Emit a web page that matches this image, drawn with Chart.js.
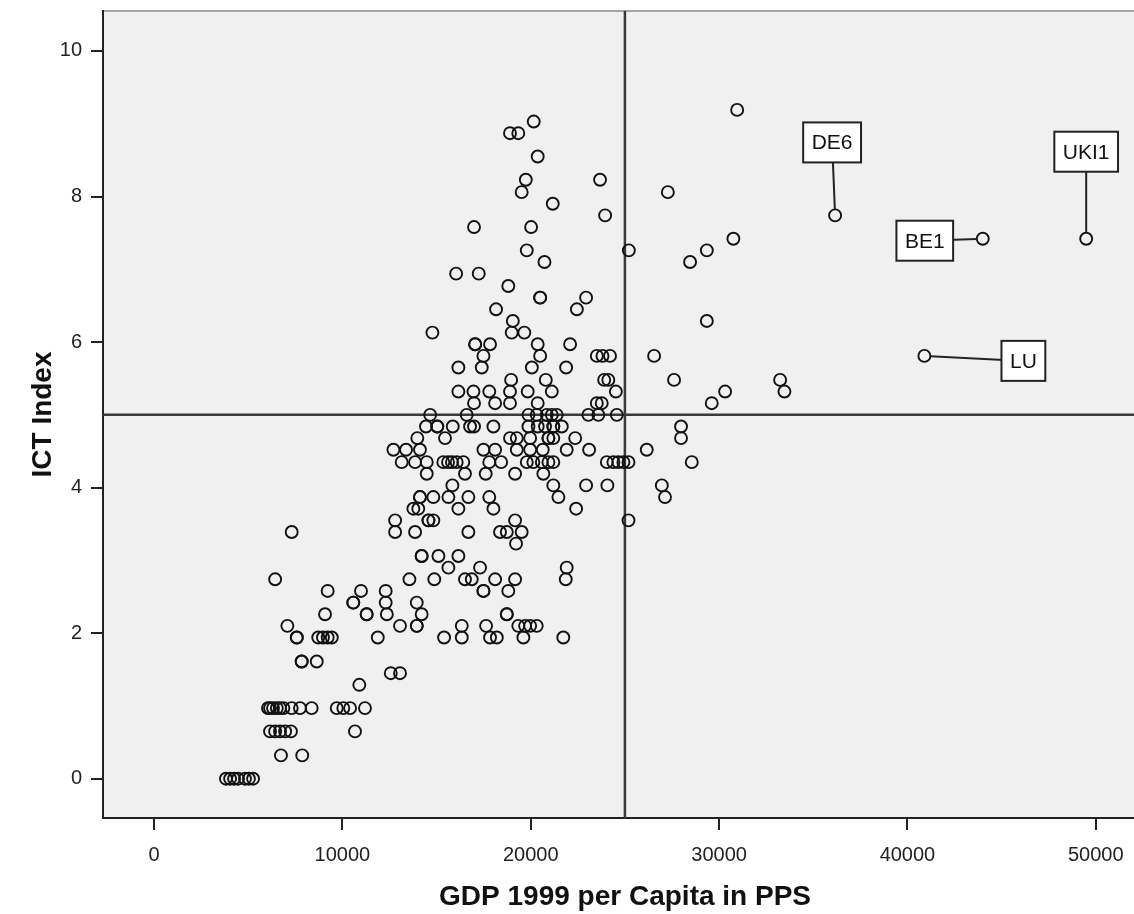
<!DOCTYPE html>
<html>
<head>
<meta charset="UTF-8">
<title>ICT Index vs GDP per Capita</title>
<script src="https://cdn.jsdelivr.net/npm/chart.js"></script>
<style>
    html, body { margin: 0; padding: 0; background: #fff; overflow: hidden; }
    #wrap { width: 1134px; height: 914px; overflow: hidden; }
</style>
</head>
<body>
<div id="wrap">
    <canvas id="ictChart" width="1155" height="914"></canvas>
</div>
<script>
// ICT index levels (top to bottom) and the GDP 1999 per capita (PPS) of every region at that level
const ictLevels = [9.19, 9.03, 8.87, 8.55, 8.23, 8.06, 7.90, 7.74, 7.58, 7.42, 7.26, 7.10, 6.94, 6.77, 6.61, 6.45,
    6.29, 6.13, 5.97, 5.81, 5.65, 5.48, 5.32, 5.16, 5.00, 4.84, 4.68, 4.52, 4.35, 4.19, 4.03, 3.87, 3.71, 3.55,
    3.39, 3.23, 3.06, 2.90, 2.74, 2.58, 2.42, 2.26, 2.10, 1.94, 1.61, 1.45, 1.29, 0.97, 0.65, 0.32, 0.00];

const gdpAtLevel = [
    [30960],
    [20160],
    [18900, 19340],
    [20370],
    [19740, 23680],
    [19520, 27280],
    [21170],
    [23950],
    [16990, 20020],
    [30760],
    [19790, 25210, 29350],
    [20730, 28460],
    [16040, 17240],
    [18810],
    [20500, 20500, 22940],
    [18160, 22450],
    [19050, 29350],
    [14780, 18990, 19660],
    [17050, 17050, 17840, 20370, 22090],
    [17490, 20500, 23510, 23810, 24210, 26550],
    [16160, 17400, 20060, 21880],
    [18960, 20800, 23900, 24120, 27610, 33240],
    [16160, 16960, 17800, 18900, 19840, 21120, 24520, 30320, 33470],
    [16990, 18110, 18900, 20370, 23510, 23770, 29610],
    [14660, 16600, 19880, 20320, 20850, 21120, 21380, 23060, 23590, 24570],
    [14440, 15040, 15040, 15860, 16780, 16990, 18020, 19880, 20370, 20760, 21200, 21200, 21650, 27980],
    [13980, 15450, 18900, 19260, 19970, 20940, 20940, 21200, 22360, 27980],
    [12710, 13380, 14120, 17490, 18110, 19260, 19970, 20640, 21910, 23100, 26160],
    [13150, 13860, 14480, 15360, 15610, 15820, 16070, 16420, 17800, 18430, 19790, 20140, 20590, 20940, 21200,
        24040, 24390, 24650, 24920, 25190, 28550],
    [14480, 16510, 17610, 19170, 20670],
    [15840, 21200, 22940, 24070, 26960],
    [14120, 14120, 14830, 15630, 16690, 17800, 21470, 27130],
    [13770, 14030, 16160, 18020, 22410],
    [12800, 14570, 14570, 14830, 19170, 25190],
    [7310, 12800, 13860, 16690, 18370, 18730, 19520],
    [19220],
    [14210, 14210, 15100, 16160],
    [15630, 17310, 21910],
    [6430, 13560, 14880, 16510, 16870, 18110, 19170, 21860],
    [9220, 10990, 12300, 17490, 17490, 18810],
    [10580, 10580, 12300, 13950],
    [9080, 11290, 11290, 12360, 14210, 18730, 18730],
    [7080, 13060, 13950, 13950, 16340, 17630, 19340, 19700, 19970, 20320],
    [7580, 7580, 8720, 8970, 9220, 9440, 11880, 15400, 16340, 17840, 18200, 19610, 21730],
    [7840, 7840, 8640],
    [12570, 13060],
    [10900],
    [6050, 6160, 6320, 6520, 6690, 6870, 7310, 7750, 8370, 9700, 10050, 10410, 11200],
    [6160, 6430, 6690, 6960, 7270, 10670],
    [6740, 7870],
    [3820, 4040, 4250, 4460, 4830, 5040, 5260]
];

// regions that get a name tag
const labelNames = ['DE6', 'BE1', 'UKI1', 'LU'];
const labelGdp = [36160, 44000, 49490, 40900];
const labelIct = [7.74, 7.42, 7.42, 5.81];

// reference lines
const gdpCut = 25000;
const ictCut = 5;

const xTickValues = [0, 10000, 20000, 30000, 40000, 50000];
const yTickValues = [0, 2, 4, 6, 8, 10];

const FONT = 'Arial, "Liberation Sans", Helvetica, sans-serif';

let points = [];
ictLevels.forEach((ict, i) => {
    for (let g of gdpAtLevel[i]) {
        points.push({x: g, y: ict});
    }
});
labelNames.forEach((name, i) => {
    points.push({x: labelGdp[i], y: labelIct[i]});
});

// tag box position relative to its point, in pixels
const tagOffsets = {
    DE6: [-3, -73],
    BE1: [-58, 2],
    UKI1: [0, -87],
    LU: [99, 5]
};

const plotBackground = {
    id: 'plotBackground',
    beforeDraw(chart) {
        const {ctx, chartArea: a} = chart;
        ctx.save();
        ctx.fillStyle = '#f0f0f0';
        ctx.fillRect(a.left, a.top, a.right - a.left, a.bottom - a.top);
        ctx.strokeStyle = '#8a8a8a';
        ctx.lineWidth = 1.5;
        ctx.beginPath();
        ctx.moveTo(a.left, a.top);
        ctx.lineTo(a.right, a.top);
        ctx.stroke();
        ctx.restore();
    },
    beforeDatasetsDraw(chart) {
        const {ctx, chartArea: a, scales} = chart;
        const x = scales.x.getPixelForValue(gdpCut);
        const y = scales.y.getPixelForValue(ictCut);
        ctx.save();
        ctx.strokeStyle = '#3a3a3a';
        ctx.lineWidth = 2.5;
        ctx.beginPath();
        ctx.moveTo(x, a.top);
        ctx.lineTo(x, a.bottom);
        ctx.moveTo(a.left, y);
        ctx.lineTo(a.right, y);
        ctx.stroke();
        ctx.restore();
    }
};

const pointTags = {
    id: 'pointTags',
    afterDatasetsDraw(chart) {
        const {ctx, scales} = chart;
        const r = 6;
        ctx.save();
        ctx.font = '21px ' + FONT;
        ctx.textAlign = 'center';
        ctx.textBaseline = 'middle';
        labelNames.forEach((name, i) => {
            const px = scales.x.getPixelForValue(labelGdp[i]);
            const py = scales.y.getPixelForValue(labelIct[i]);
            const [dx, dy] = tagOffsets[name];
            const bx = px + dx, by = py + dy;
            const w = ctx.measureText(name).width + 17;
            const h = 40;

            // leader from the circle edge to the box
            const len = Math.hypot(dx, dy);
            ctx.strokeStyle = '#222';
            ctx.lineWidth = 2;
            ctx.beginPath();
            ctx.moveTo(px + dx / len * r, py + dy / len * r);
            ctx.lineTo(bx, by);
            ctx.stroke();

            ctx.fillStyle = '#fff';
            ctx.fillRect(bx - w / 2, by - h / 2, w, h);
            ctx.strokeRect(bx - w / 2, by - h / 2, w, h);
            ctx.fillStyle = '#111';
            ctx.fillText(name, bx, by + 1);
        });
        ctx.restore();
    }
};

new Chart(document.getElementById('ictChart'), {
    type: 'scatter',
    data: {
        datasets: [{
            data: points,
            pointStyle: 'circle',
            pointRadius: 6,
            pointBorderWidth: 1.9,
            pointBorderColor: '#111',
            pointBackgroundColor: 'rgba(0,0,0,0)',
            pointHoverRadius: 6
        }]
    },
    options: {
        responsive: false,
        devicePixelRatio: 1,
        animation: false,
        layout: { padding: { top: 11, right: 0, bottom: 0, left: 0 } },
        plugins: {
            legend: { display: false },
            tooltip: { enabled: false }
        },
        scales: {
            x: {
                type: 'linear',
                min: -2708,
                max: 52724,
                afterBuildTicks: (scale) => { scale.ticks = xTickValues.map(v => ({value: v})); },
                afterFit: (scale) => { scale.height = 96; },
                border: { display: true, color: '#222', width: 2 },
                grid: { drawOnChartArea: false, drawTicks: true, tickLength: 12, color: '#222', lineWidth: 2 },
                ticks: {
                    padding: 13,
                    color: '#222',
                    font: { family: FONT, size: 20 },
                    maxRotation: 0,
                    callback: (v) => String(v)
                },
                title: {
                    display: true,
                    text: 'GDP 1999 per Capita in PPS',
                    color: '#111',
                    font: { family: FONT, size: 28, weight: 'bold' },
                    padding: { top: 6, bottom: 0 }
                }
            },
            y: {
                type: 'linear',
                min: -0.54,
                max: 10.549,
                afterBuildTicks: (scale) => { scale.ticks = yTickValues.map(v => ({value: v})); },
                afterFit: (scale) => {
                    scale.width = 103;
                    // no extra room for the top/bottom tick labels
                    scale.paddingTop = 0;
                    scale.paddingBottom = 0;
                },
                border: { display: true, color: '#222', width: 2 },
                grid: { drawOnChartArea: false, drawTicks: true, tickLength: 12, color: '#222', lineWidth: 2 },
                ticks: {
                    padding: 9,
                    color: '#222',
                    font: { family: FONT, size: 20 },
                    callback: (v) => String(v)
                },
                title: {
                    display: true,
                    text: 'ICT Index',
                    color: '#111',
                    font: { family: FONT, size: 28, weight: 'bold' },
                    padding: { top: 26, bottom: 0 }
                }
            }
        }
    },
    plugins: [plotBackground, pointTags]
});
</script>
</body>
</html>
